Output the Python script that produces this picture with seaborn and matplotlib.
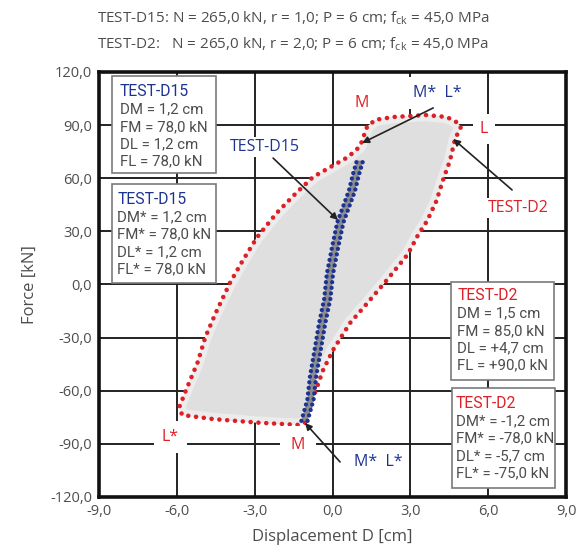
import numpy as np
import pandas as pd
import matplotlib
matplotlib.use("Agg")
import matplotlib.pyplot as plt
import seaborn as sns
from matplotlib.patches import Rectangle, Polygon
from matplotlib.ticker import FuncFormatter

# ==========================================================
# DATA
# ==========================================================

# TEST-D2 envelope (closed loop), displacement [cm] / force [kN]
d2_D = [-1.06, -1.3, -2.9, -4.6, -5.8, -5.9, -5.6, -5.2, -4.9, -4.5, -3.95,
        -3.45, -2.9, -2.15, -1.4, -0.75, 0.0, 0.6, 1.06, 1.33, 1.65, 2.35,
        3.6, 4.4, 4.75, 4.95, 4.72, 4.53, 4.26, 4.0, 3.65, 3.3, 2.9, 2.1,
        1.35, 0.68, 0.02, -0.36, -0.7, -1.06]
d2_F = [-78, -79.3, -78, -76, -73.7, -69, -58, -44, -29.6, -16, 1,
        13.8, 26.8, 40.4, 51.7, 60.7, 67, 72, 78, 89, 93, 94.6,
        95.7, 94.6, 92, 89, 82, 70, 59, 47, 36, 28, 17, 2.6,
        -10.4, -21.7, -37, -48.3, -62, -78]

# TEST-D15 narrow loop: right branch (going up), left branch (going down)
d15_F_levels = [-77, -65, -52, -35, -22, -8, 6, 21, 35, 53, 62, 70]
d15_D_right = [-0.96, -0.73, -0.63, -0.43, -0.28, -0.08, 0.02, 0.22, 0.42, 0.87, 1.02, 1.18]
d15_D_left = [-1.2, -0.97, -0.87, -0.67, -0.52, -0.32, -0.22, -0.02, 0.18, 0.63, 0.78, 0.94]

x_ticks = [-9, -6, -3, 0, 3, 6, 9]
y_ticks = [-120, -90, -60, -30, 0, 30, 60, 90, 120]

title_lines = [
    r"TEST-D15: N = 265,0 kN, r = 1,0; P = 6 cm; $\mathregular{f_{ck}}$ = 45,0 MPa",
    r"TEST-D2:   N = 265,0 kN, r = 2,0; P = 6 cm; $\mathregular{f_{ck}}$ = 45,0 MPa",
]

box_d15_1 = ["TEST-D15", "DM = 1,2 cm", "FM = 78,0 kN", "DL = 1,2 cm", "FL = 78,0 kN"]
box_d15_2 = ["TEST-D15", "DM* = 1,2 cm", "FM* = 78,0 kN", "DL* = 1,2 cm", "FL* = 78,0 kN"]
box_d2_1 = ["TEST-D2", "DM = 1,5 cm", "FM = 85,0 kN", "DL = +4,7 cm", "FL = +90,0 kN"]
box_d2_2 = ["TEST-D2", "DM* = -1,2 cm", "FM* = -78,0 kN", "DL* = -5,7 cm", "FL* = -75,0 kN"]

RED = "#dd1f26"
BLUE = "#1c3391"
TXT = "#4d4d4d"

# ==========================================================
# STYLE
# ==========================================================

sns.set_style("white")
plt.rcParams['font.family'] = ['Open Sans', 'DejaVu Sans']
plt.rcParams['mathtext.fontset'] = 'custom'
plt.rcParams['mathtext.rm'] = 'Open Sans'

fig = plt.figure(figsize=(5.8, 5.5), dpi=100)
ax = fig.add_axes([0.1707, 0.0964, 0.8052, 0.7727])

# ==========================================================
# TEST-D2 ENVELOPE
# ==========================================================

d2 = pd.DataFrame({"D": d2_D, "F": d2_F})

poly = Polygon(np.column_stack([d2_D, d2_F]), closed=True,
               facecolor="#dfdfdf", edgecolor="none", zorder=2)
ax.add_patch(poly)

halo, = ax.plot(d2_D, d2_F, color="#ececec", lw=9, zorder=2.1,
                solid_joinstyle="round")
halo.set_clip_path(poly)

sns.lineplot(data=d2, x="D", y="F", sort=False, estimator=None, ax=ax,
             color=RED, lw=3.3, linestyle=(0, (0.01, 1.7)),
             dash_capstyle="round", zorder=4)

# ==========================================================
# TEST-D15 LOOP
# ==========================================================

d15 = pd.DataFrame({
    "D": d15_D_right + d15_D_left[::-1],
    "F": d15_F_levels + d15_F_levels[::-1],
})

ax.fill(d15["D"], d15["F"], color="#8c8c8c", zorder=5, lw=0)

for branch in [d15_D_right, d15_D_left]:
    sns.lineplot(x=branch, y=d15_F_levels, sort=False, estimator=None, ax=ax,
                 color=BLUE, lw=3.1, linestyle=(0, (0.01, 1.3)),
                 dash_capstyle="round", zorder=6)

# ==========================================================
# AXES
# ==========================================================

ax.set_xlim(-9, 9)
ax.set_ylim(-120, 120)
ax.set_xticks(x_ticks)
ax.set_yticks(y_ticks)
fmt = FuncFormatter(lambda v, p: f"{v:.1f}".replace(".", ","))
ax.xaxis.set_major_formatter(fmt)
ax.yaxis.set_major_formatter(fmt)
ax.tick_params(length=0, labelsize=10.5, labelcolor=TXT, pad=5)
ax.grid(True, color="#222222", lw=1.4, zorder=1)
ax.set_axisbelow(True)
for s in ax.spines.values():
    s.set_linewidth(2.6)
    s.set_color("#111111")
    s.set_zorder(10)

ax.set_xlabel("Displacement D [cm]", fontsize=12, color=TXT, labelpad=7)
ax.set_ylabel("Force [kN]", fontsize=12, color=TXT, labelpad=9)

for i, line in enumerate(title_lines):
    fig.text(0.167, 0.967 - i * 0.047, line, fontsize=11, color=TXT,
             ha="left", va="center")

# ==========================================================
# INFO BOXES
# ==========================================================

def info_box(x0, y0, x1, y1, lines, head_color, tx, ty):
    ax.add_patch(Rectangle((x0, y0), x1 - x0, y1 - y0, transform=ax.transAxes,
                           facecolor="white", edgecolor="#7a7a7a", lw=1.2,
                           zorder=8))
    for k, t in enumerate(lines):
        ax.text(tx, ty - k * 0.041, t, transform=ax.transAxes,
                fontsize=11.3 if k == 0 else 10.8,
                family=['Roboto', 'DejaVu Sans'],
                color=head_color if k == 0 else TXT, ha="left", va="center",
                zorder=9)

info_box(0.028, 0.762, 0.251, 0.991, box_d15_1, BLUE, 0.044, 0.953)
info_box(0.028, 0.504, 0.251, 0.736, box_d15_2, BLUE, 0.039, 0.699)
info_box(0.754, 0.275, 0.974, 0.506, box_d2_1, RED, 0.767, 0.473)
info_box(0.756, 0.021, 0.976, 0.256, box_d2_2, RED, 0.764, 0.219)

# ==========================================================
# LABELS + ARROWS
# ==========================================================

def label(x, y, t, c, pad=0.15):
    ax.text(x, y, t, color=c, fontsize=11.5, ha="center", va="center", zorder=7,
            bbox=dict(boxstyle=f"square,pad={pad}", fc="white", ec="none"))

def arrow(xt, yt, xh, yh):
    ax.annotate("", xy=(xh, yh), xytext=(xt, yt), zorder=7,
                arrowprops=dict(arrowstyle="-|>", color="#222222", lw=1.2,
                                mutation_scale=10, shrinkA=0, shrinkB=0))

label(-2.6, 77.6, "TEST-D15", BLUE)
label(1.14, 102.5, "M", RED)
label(4.03, 108.0, "M*  L*", BLUE, pad=0.5)
label(5.84, 87.8, "L", RED, pad=0.45)
label(7.15, 43.2, "TEST-D2", RED)
label(-6.26, -86.0, "L*", RED, pad=0.5)
label(-1.33, -90.6, "M", RED, pad=0.7)
label(1.76, -100.5, "M*  L*", BLUE)

arrow(-2.29, 71.4, 0.21, 36.4)
arrow(3.88, 99.7, 1.14, 79.9)
arrow(6.92, 53.4, 4.65, 82.2)
arrow(0.29, -100.2, -1.06, -78.2)

fig.savefig("out.png", dpi=100)
